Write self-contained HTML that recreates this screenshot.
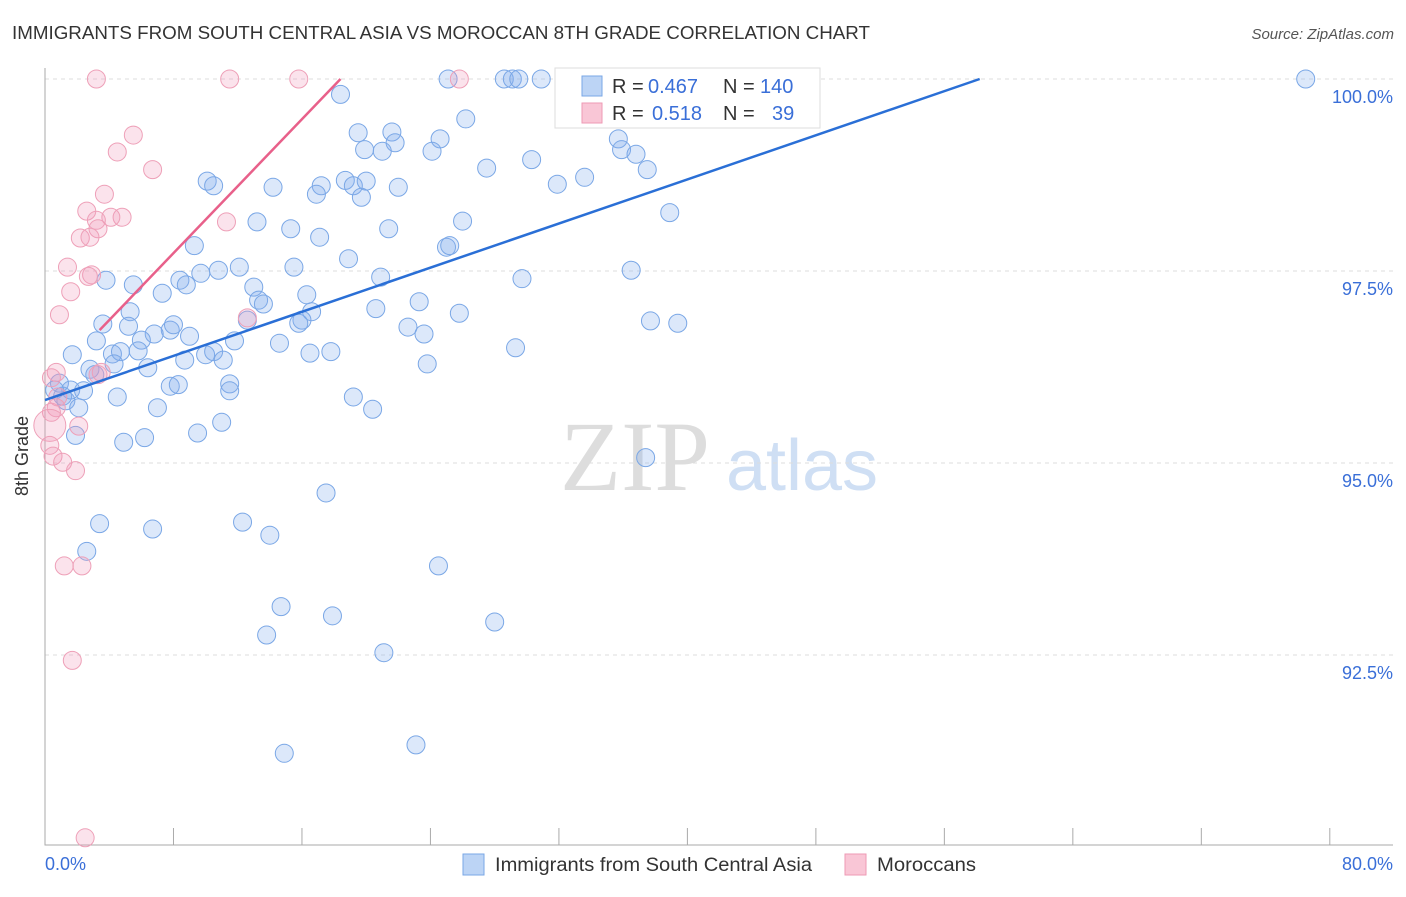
<!DOCTYPE html>
<html><head><meta charset="utf-8"><style>
body{margin:0;background:#fff;font-family:"Liberation Sans",sans-serif;}
svg text{font-family:"Liberation Sans",sans-serif;}
</style></head><body>
<svg id="chart" width="1406" height="892">
<text x="12" y="39" font-size="18" fill="#333" textLength="858" lengthAdjust="spacingAndGlyphs">IMMIGRANTS FROM SOUTH CENTRAL ASIA VS MOROCCAN 8TH GRADE CORRELATION CHART</text>
<text x="1394" y="39" font-size="15" fill="#555" font-style="italic" text-anchor="end">Source: ZipAtlas.com</text>
<g><text x="635" y="490" font-size="100" fill="#ddd" text-anchor="middle" font-family="Liberation Serif" style="font-family:'Liberation Serif',serif">ZIP</text><text x="802" y="490" font-size="72" fill="#cfdff4" text-anchor="middle">atlas</text></g>
<g id="grid"></g><g id="axes"></g><g id="pts"></g><g id="lines"></g>
<text x="28" y="456" font-size="18" fill="#333" text-anchor="middle" transform="rotate(-90 28 456)">8th Grade</text>
<text x="45" y="870" font-size="18" fill="#3a6fd8">0.0%</text>
<text x="1393" y="870" font-size="18" fill="#3a6fd8" text-anchor="end">80.0%</text>
<g>
<rect x="555" y="68" width="265" height="60" fill="#fff" stroke="#ddd"/>
<rect x="582" y="76" width="20" height="20" fill="#bcd4f5" stroke="#7aa7e6"/>
<rect x="582" y="103" width="20" height="20" fill="#f9c6d6" stroke="#ee9ab4"/>
<text y="93" font-size="20" fill="#333"><tspan x="612">R =</tspan><tspan x="648" fill="#3a6fd8">0.467</tspan><tspan x="723">N =</tspan><tspan x="760" fill="#3a6fd8">140</tspan></text>
<text y="120" font-size="20" fill="#333"><tspan x="612">R =</tspan><tspan x="652" fill="#3a6fd8">0.518</tspan><tspan x="723">N =</tspan><tspan x="772" fill="#3a6fd8">39</tspan></text>
</g>
<g>
<rect x="463" y="854" width="21" height="21" fill="#bcd4f5" stroke="#7aa7e6"/>
<text x="495" y="871" font-size="19" fill="#333" textLength="317" lengthAdjust="spacingAndGlyphs">Immigrants from South Central Asia</text>
<rect x="845" y="854" width="21" height="21" fill="#f9c6d6" stroke="#ee9ab4"/>
<text x="877" y="871" font-size="19" fill="#333" textLength="99" lengthAdjust="spacingAndGlyphs">Moroccans</text>
</g>
</svg>
<script>
const blueX=[25.1,28.6,29.1,29.5,30.9,32.9,41.7,78.5,18.4,26.2,19.5,21.6,21.8,24.6,19.9,21.0,24.1,30.3,27.5,35.7,35.9,36.8,37.5,33.6,31.9,10.1,10.5,14.2,17.2,18.7,19.2,20.0,16.9,19.7,22.0,38.9,26.0,13.2,15.3,21.4,17.1,9.3,25.0,25.2,18.9,12.1,15.5,36.5,29.7,20.9,3.8,8.4,8.8,9.7,10.8,5.5,7.3,13.0,16.3,13.3,13.6,23.3,20.6,25.8,5.3,16.6,16.0,15.8,12.6,37.7,39.4,22.6,3.6,5.2,7.8,8.0,6.8,9.0,23.6,3.2,6.0,11.8,14.6,29.3,1.7,4.2,4.7,5.8,8.7,10.0,10.5,11.1,16.5,17.8,4.3,6.4,23.8,2.8,3.1,0.9,1.6,2.4,1.1,0.6,7.8,8.3,11.5,11.5,4.5,19.2,1.3,2.1,7.0,20.4,1.9,4.9,6.2,9.5,11.0,37.4,17.5,3.4,6.7,12.3,14.0,2.6,24.5,14.7,17.9,28.0,13.8,21.1,23.1,14.9];
const blueY=[100,100,100,100,100,100,100,100,99.80,99.48,99.30,99.31,99.17,99.22,99.08,99.06,99.06,98.95,98.84,99.22,99.08,99.02,98.82,98.72,98.63,98.67,98.61,98.59,98.61,98.68,98.61,98.67,98.50,98.46,98.59,98.26,98.15,98.14,98.05,98.05,97.94,97.83,97.81,97.83,97.66,97.55,97.55,97.51,97.40,97.42,97.38,97.38,97.32,97.47,97.51,97.32,97.21,97.29,97.19,97.12,97.07,97.10,97.01,96.95,96.97,96.97,96.86,96.82,96.86,96.85,96.82,96.77,96.81,96.78,96.73,96.80,96.68,96.65,96.68,96.59,96.60,96.59,96.56,96.50,96.41,96.42,96.45,96.46,96.34,96.41,96.45,96.34,96.43,96.45,96.29,96.24,96.29,96.22,96.15,96.04,95.95,95.94,95.87,95.95,96.00,96.02,96.03,95.94,95.86,95.86,95.81,95.72,95.72,95.70,95.36,95.27,95.33,95.39,95.53,95.07,94.61,94.21,94.14,94.23,94.06,93.85,93.66,93.13,93.01,92.93,92.76,92.53,91.33,91.22];
const pinkX=[3.2,11.5,15.8,25.8,5.5,4.5,6.7,3.7,2.6,4.8,4.1,3.2,3.3,2.2,2.8,11.3,1.4,2.9,2.7,1.6,0.9,12.6,3.5,3.3,0.7,0.4,0.8,0.7,0.4,0.3,2.1,0.3,0.5,1.1,1.9,1.2,2.3,1.7,2.5];
const pinkY=[100,100,100,100,99.27,99.05,98.82,98.50,98.28,98.20,98.20,98.16,98.05,97.93,97.94,98.14,97.55,97.45,97.43,97.23,96.93,96.89,96.18,96.15,96.18,96.11,95.86,95.72,95.66,95.49,95.48,95.23,95.09,95.01,94.90,93.66,93.66,92.43,90.12];
const yTicks=[100,97.5,95,92.5];
const blueTrend=[[0,95.82],[58.2,100]];
const pinkTrend=[[3.4,96.73],[18.4,100]];
const X=v=>45+v*16.06, Y=v=>79+(100-v)*76.8;
const NS='http://www.w3.org/2000/svg';
function mk(t,a,p){const e=document.createElementNS(NS,t);for(const k in a)e.setAttribute(k,a[k]);p.appendChild(e);return e;}
const grid=document.getElementById('grid'),axes=document.getElementById('axes'),pts=document.getElementById('pts'),lines=document.getElementById('lines');
yTicks.forEach(t=>{
 const l=mk('line',{x1:45,x2:1393,y1:Y(t),y2:Y(t),stroke:'#ddd','stroke-dasharray':'4 4'},grid);
 
 
 const tx=mk('text',{x:1393,y:Y(t)+24,'font-size':18,fill:'#3a6fd8','text-anchor':'end'},grid);
 tx.textContent=t.toFixed(1)+'%';
 
 
});
const ax=mk('path',{d:'M45 68V845H1393',stroke:'#aaa',fill:'none'},axes);


for(let i=0;i<=10;i++){
 const tk=mk('line',{x1:X(i*8),x2:X(i*8),y1:828,y2:845,stroke:'#aaa'},axes);
 
 
}
blueX.forEach((x,i)=>{
 const c=mk('circle',{cx:X(x),cy:Y(blueY[i]),r:9,fill:'rgba(130,172,238,0.28)',stroke:'#7aa7e6','stroke-width':1},pts);
 
 
});
pinkX.forEach((x,i)=>{
 const c=mk('circle',{cx:X(x),cy:Y(pinkY[i]),r:i==29?16:9,fill:'rgba(240,155,185,0.28)',stroke:'#eea0b8','stroke-width':1},pts);
 
 
});
const bl=mk('line',{x1:X(blueTrend[0][0]),y1:Y(blueTrend[0][1]),x2:X(blueTrend[1][0]),y2:Y(blueTrend[1][1]),stroke:'#2a6fd6','stroke-width':2.5},lines);


const pl=mk('line',{x1:X(pinkTrend[0][0]),y1:Y(pinkTrend[0][1]),x2:X(pinkTrend[1][0]),y2:Y(pinkTrend[1][1]),stroke:'#e8608a','stroke-width':2.5},lines);


</script>
</body></html>
